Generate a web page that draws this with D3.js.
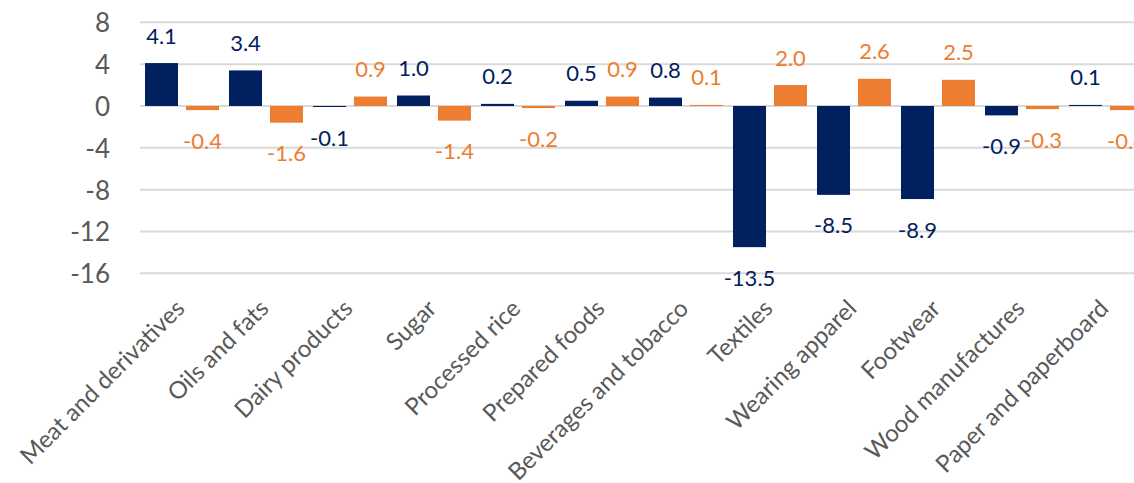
<!DOCTYPE html>
<meta charset="utf-8">
<style>
body { margin: 0; background: #fff; }
svg { display: block; overflow: hidden; }
.grid line { stroke: #d9d9d9; stroke-width: 2px; }
.tick-label { font-family: Lato, sans-serif; font-size: 26px; fill: #595959; }
.cat-label { font-family: Lato, sans-serif; font-size: 24px; fill: #595959; }
.val-label { font-family: Lato, sans-serif; font-size: 22px; }
</style>
<body>
<script src="https://d3js.org/d3.v7.min.js"></script>
<script>

// categories and the two series
var categories = ["Meat and derivatives", "Oils and fats", "Dairy products", "Sugar",
  "Processed rice", "Prepared foods", "Beverages and tobacco", "Textiles",
  "Wearing apparel", "Footwear", "Wood manufactures", "Paper and paperboard"];
var seriesA = [4.1, 3.4, -0.1, 1.0, 0.2, 0.5, 0.8, -13.5, -8.5, -8.9, -0.9, 0.1];
var seriesB = [-0.4, -1.6, 0.9, -1.4, -0.2, 0.9, 0.1, 2.0, 2.6, 2.5, -0.3, -0.4];
var yTicks = [8, 4, 0, -4, -8, -12, -16];

var seriesNames = ["a", "b"];
var colors = {a: "#002060", b: "#ED7D31"};

var width = 1134, height = 483;

// plain hyphen for negatives, like the original
var locale = d3.formatLocale({decimal: ".", thousands: ",", grouping: [3], currency: ["", ""], minus: "-"});
var fmtVal = locale.format(".1f");
var fmtTick = locale.format("d");

var svg = d3.select("body").append("svg")
    .attr("width", width)
    .attr("height", height);

// scales
var x0 = d3.scaleBand().domain(categories).range([140, 1148]);
var x1 = d3.scaleBand().domain(seriesNames).range([5, 79]).paddingInner(0.195);
var y = d3.scaleLinear().domain([-16, 8]).range([273.3, 22.3]);

// gridlines
svg.append("g")
    .attr("class", "grid")
  .selectAll("line")
    .data(yTicks)
  .enter().append("line")
    .attr("x1", 140)
    .attr("x2", width)
    .attr("y1", function(d) { return y(d); })
    .attr("y2", function(d) { return y(d); });

// y axis labels
var yAxis = svg.append("g")
    .attr("transform", "translate(110,0)")
    .call(d3.axisLeft(y).tickValues(yTicks).tickFormat(fmtTick).tickSize(0).tickPadding(0));
yAxis.select(".domain").remove();
yAxis.attr("font-size", null).attr("font-family", null);
yAxis.selectAll("text")
    .attr("class", "tick-label")
    .attr("fill", null)
    .attr("dy", "0.36em");

// build rows for the bars
var rows = categories.map(function(c, i) {
  return {cat: c, values: [{key: "a", v: seriesA[i]}, {key: "b", v: seriesB[i]}]};
});

var groups = svg.selectAll(".group")
    .data(rows)
  .enter().append("g")
    .attr("class", "group")
    .attr("transform", function(d) { return "translate(" + x0(d.cat) + ",0)"; });

groups.selectAll("rect")
    .data(function(d) { return d.values; })
  .enter().append("rect")
    .attr("x", function(d) { return x1(d.key); })
    .attr("width", x1.bandwidth())
    .attr("y", function(d) { return y(Math.max(0, d.v)); })
    .attr("height", function(d) { return Math.abs(y(d.v) - y(0)); })
    .attr("fill", function(d) { return colors[d.key]; });

// value labels
groups.selectAll(".val-label")
    .data(function(d) { return d.values; })
  .enter().append("text")
    .attr("class", "val-label")
    .attr("text-anchor", "middle")
    .attr("x", function(d) { return x1(d.key) + x1.bandwidth() / 2; })
    .attr("y", function(d) { return d.v >= 0 ? y(d.v) - 19.5 : y(d.v) + 38.5; })
    .attr("fill", function(d) { return colors[d.key]; })
    .text(function(d) { return fmtVal(d.v); });

// category labels, rotated
svg.append("g").selectAll(".cat-label")
    .data(categories)
  .enter().append("text")
    .attr("class", "cat-label")
    .attr("text-anchor", "end")
    .attr("transform", function(d) {
      return "translate(" + (x0(d) + x0.bandwidth() / 2 + 4) + ",310) rotate(-45)";
    })
    .text(function(d) { return d; });

</script>
</body>
